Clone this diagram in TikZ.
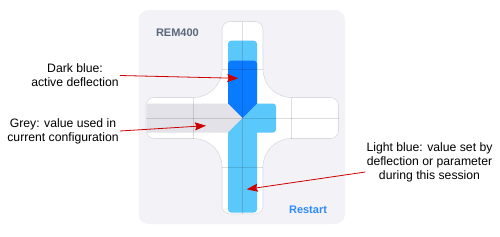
\documentclass[tikz,border=0pt]{standalone}
\usepackage{fontspec}
\setmainfont{Liberation Sans}
\usepackage{tikz}
\usetikzlibrary{arrows.meta}
\usepackage{xcolor}
\definecolor{panelgray}{RGB}{242,242,247}
\definecolor{crossline}{RGB}{218,218,224}
\definecolor{usedgray}{RGB}{226,226,232}
\definecolor{setblue}{RGB}{90,200,250}
\definecolor{activeblue}{RGB}{10,122,255}
\definecolor{slategray}{RGB}{91,102,120}
\definecolor{restartblue}{RGB}{46,139,250}
\definecolor{labelred}{RGB}{204,0,0}

\begin{document}
\begin{tikzpicture}[x=1pt,y=-1pt,
    callout/.style={align=center,inner sep=1pt,font=\fontsize{12.2}{14}\selectfont},
    pointer/.style={labelred,line width=0.8pt,-{Stealth[length=11pt,width=8pt,inset=1.5pt]}},
    gridline/.style={black,opacity=0.13,line width=0.6pt}]
        \useasboundingbox (0,0) rectangle (500,236);
        \fill[panelgray,rounded corners=10pt] (138.5,10) rectangle (345,224);
        \path[fill=white,draw=crossline,line width=0.6pt]
          (242.5,21.5) [rounded corners=8pt] -- (263,21.5)
          [rounded corners=28.5pt] -- (263,97.5)
          [rounded corners=8pt] -- (338.5,97.5) -- (338.5,138.5)
          [rounded corners=28.5pt] -- (263,138.5)
          [rounded corners=8pt] -- (263,214) -- (222,214)
          [rounded corners=28.5pt] -- (222,138.5)
          [rounded corners=8pt] -- (146,138.5) -- (146,97.5)
          [rounded corners=28.5pt] -- (222,97.5)
          [rounded corners=8pt] -- (222,21.5) -- cycle;
        \fill[usedgray] (146.5,103.5) -- (228,103.5) -- (242.5,118)
          -- (228,132.5) -- (146.5,132.5) -- cycle;
        \fill[setblue,rounded corners=3pt] (228,40.7) rectangle (257,80);
        \fill[setblue] (242.5,118) -- (257,103.5)
          [rounded corners=3pt] -- (276,103.5) -- (276,132.5)
          [sharp corners] -- (257,132.5)
          [rounded corners=3pt] -- (257,212.5) -- (228,212.5)
          [sharp corners] -- (228,132.5) -- cycle;
        \fill[activeblue] (228,103.5)
          [rounded corners=3pt] -- (228,60.7) -- (257,60.7)
          [sharp corners] -- (257,103.5) -- (242.5,118) -- cycle;
        \draw[gridline] (242.5,21.5) -- (242.5,214);
        \draw[gridline] (146,118) -- (338.5,118);
        \draw[gridline] (193.5,97.5) -- (193.5,138.5);
        \draw[gridline] (291.5,97.5) -- (291.5,138.5);
        \draw[gridline] (222,69) -- (263,69);
        \draw[gridline] (222,167) -- (263,167);
        \node[text=slategray,font=\fontsize{11}{13}\selectfont\bfseries,anchor=west]
          (model) at (152.5,32.5) {REM400};
        \node[text=restartblue,font=\fontsize{11}{13}\selectfont\bfseries,anchor=east]
          (restart) at (330.5,210) {Restart};
        \node[callout] (darklbl) at (75,75.5) {Dark blue:\\active deflection};
        \node[callout] (graylbl) at (63,131) {Grey: value used in\\current configuration};
        \node[callout] (lightlbl) at (429.5,162)
          {Light blue: value set by\\deflection or parameter\\during this session};
        \coordinate (activetip) at (238.3,78.3);
        \coordinate (usedtip) at (206,125.7);
        \coordinate (settip) at (246.7,189.3);
        \draw[pointer] (darklbl.east) -- (activetip);
        \draw[pointer] (graylbl.east) -- (usedtip);
        \draw[pointer] ([yshift=-10pt]lightlbl.west) -- (settip);
      \end{tikzpicture}
\end{document}
